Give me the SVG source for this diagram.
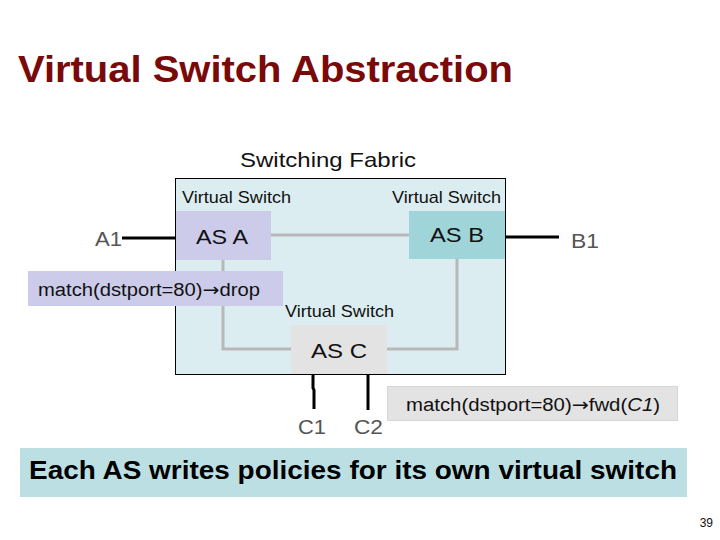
<svg xmlns="http://www.w3.org/2000/svg" width="720" height="540" viewBox="0 0 720 540">
<style>
text{font-family:"Liberation Sans",Arial,sans-serif}
.vs{font-size:17px;fill:#111}
.as{font-size:21px;fill:#111}
.port{font-size:21px;fill:#555}
.pol{font-size:18px;fill:#111}
.ar{font-family:"DejaVu Sans",sans-serif}
.gl{stroke:#b8b8b8;stroke-width:3;fill:none}
.bl{stroke:#000;stroke-width:3;fill:none}
</style>
<rect width="720" height="540" fill="#fff"/>
<text x="18" y="82" font-size="37" font-weight="bold" fill="#7a0a0a" textLength="495" lengthAdjust="spacingAndGlyphs">Virtual Switch Abstraction</text>
<g id="fabric">
<rect x="175.500" y="178.500" width="330" height="196" fill="#dbedf0" stroke="#000" stroke-width="1"/>
<text x="240" y="167" font-size="21" fill="#111" textLength="176" lengthAdjust="spacingAndGlyphs">Switching Fabric</text>
</g>
<g id="connectors">
<path class="gl" d="M271 235H409"/>
<path class="gl" d="M223 260V349H291"/>
<path class="gl" d="M457 259V349H387"/>
<path class="bl" d="M122 238H176"/>
<path class="bl" d="M505 237H559"/>
<path class="bl" d="M313 375V388L314 390V409"/>
<path class="bl" d="M368 375V410"/>
</g>
<g id="asA">
<text class="vs" x="182" y="203" textLength="109" lengthAdjust="spacingAndGlyphs">Virtual Switch</text>
<rect x="176" y="211" width="95" height="49" fill="#ccccea"/>
<text class="as" x="196" y="244" textLength="52" lengthAdjust="spacingAndGlyphs">AS A</text>
</g>
<g id="asB">
<text class="vs" x="392" y="203" textLength="109" lengthAdjust="spacingAndGlyphs">Virtual Switch</text>
<rect x="409" y="211" width="96" height="48" fill="#9fd4d9"/>
<text class="as" x="430" y="242" textLength="54" lengthAdjust="spacingAndGlyphs">AS B</text>
</g>
<g id="asC">
<text class="vs" x="285" y="317" textLength="109" lengthAdjust="spacingAndGlyphs">Virtual Switch</text>
<rect x="291" y="325" width="96" height="49" fill="#e3e3e3"/>
<text class="as" x="311" y="358" textLength="56" lengthAdjust="spacingAndGlyphs">AS C</text>
</g>
<g id="A1"><text class="port" x="95" y="246" textLength="27" lengthAdjust="spacingAndGlyphs">A1</text></g>
<g id="B1"><text class="port" x="571" y="248" textLength="28" lengthAdjust="spacingAndGlyphs">B1</text></g>
<g id="C1"><text class="port" x="298" y="434" textLength="28" lengthAdjust="spacingAndGlyphs">C1</text></g>
<g id="C2"><text class="port" x="354" y="434" textLength="29" lengthAdjust="spacingAndGlyphs">C2</text></g>
<g id="policyA">
<rect x="28" y="271" width="255" height="35" fill="#ccccea"/>
<text class="pol" x="38" y="296" textLength="222" lengthAdjust="spacingAndGlyphs">match(dstport=80)<tspan class="ar">→</tspan>drop</text>
</g>
<g id="policyC">
<rect x="387.500" y="386.500" width="290" height="34" fill="#e3e3e3" stroke="#d6d6d6"/>
<text class="pol" x="406" y="411" textLength="254" lengthAdjust="spacingAndGlyphs">match(dstport=80)<tspan class="ar">→</tspan>fwd(<tspan font-style="italic">C1</tspan>)</text>
</g>
<g id="caption">
<rect x="20" y="448" width="667" height="49" fill="#bcdfe3"/>
<text x="29" y="479" font-size="25" font-weight="bold" fill="#000" textLength="648" lengthAdjust="spacingAndGlyphs">Each AS writes policies for its own virtual switch</text>
</g>
<text x="713" y="527" font-size="12" fill="#111" text-anchor="end">39</text>
</svg>
